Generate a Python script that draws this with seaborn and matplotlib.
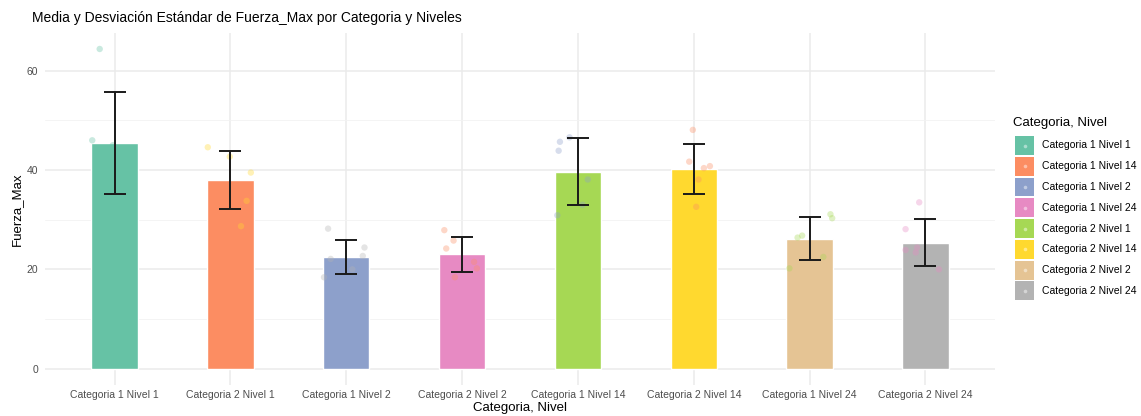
import numpy as np
import pandas as pd
import matplotlib
matplotlib.use("Agg")
import matplotlib.pyplot as plt
import seaborn as sns
from matplotlib.patches import Rectangle, Circle
from matplotlib.colors import to_rgb

# Groups in plotting order
grupos = ["Categoria 1 Nivel 1", "Categoria 2 Nivel 1", "Categoria 1 Nivel 2",
          "Categoria 2 Nivel 2", "Categoria 1 Nivel 14", "Categoria 2 Nivel 14",
          "Categoria 1 Nivel 24", "Categoria 2 Nivel 24"]

# Mean and standard deviation of Fuerza_Max per group
media = [45.5, 38.0, 22.5, 23.0, 39.7, 40.2, 26.2, 25.4]
desv = [10.25, 5.8, 3.5, 3.45, 6.7, 5.05, 4.3, 4.65]

# Individual observations per group
obs_c1n1 = [64.4, 46.0, 45.0, 43.0, 40.8, 33.7]
obs_c2n1 = [44.6, 42.7, 39.5, 33.8, 28.7]
obs_c1n2 = [28.2, 24.4, 22.7, 22.1, 20.0, 18.4]
obs_c2n2 = [27.9, 25.8, 24.2, 21.5, 20.2, 18.4]
obs_c1n14 = [46.6, 45.7, 43.9, 38.1, 33.0, 30.9]
obs_c2n14 = [48.1, 41.7, 40.8, 40.4, 38.1, 32.6]
obs_c1n24 = [31.1, 30.3, 26.8, 26.4, 22.5, 20.2]
obs_c2n24 = [33.5, 28.1, 24.4, 23.9, 23.4, 20.0]
observaciones = [obs_c1n1, obs_c2n1, obs_c1n2, obs_c2n2,
                 obs_c1n14, obs_c2n14, obs_c1n24, obs_c2n24]

# Legend entries (alphabetical factor levels)
leyenda = sorted(grupos)

set2 = sns.color_palette("Set2", 8)
color_barras = dict(zip(grupos, set2))
color_leyenda = dict(zip(leyenda, set2))
# colour of the jittered points for each group
color_puntos = dict(zip(grupos, [set2[0], set2[5], set2[7], set2[1],
                                 set2[2], set2[1], set2[4], set2[3]]))

df_resumen = pd.DataFrame({"grupo": grupos, "media": media, "desv": desv})
df_obs = pd.DataFrame({
    "grupo": [g for g, vals in zip(grupos, observaciones) for _ in vals],
    "valor": [v for vals in observaciones for v in vals],
})

sns.set_theme(style="whitegrid")
plt.rcParams["font.family"] = ["Liberation Sans", "DejaVu Sans"]

W, H = 1141, 416
fig = plt.figure(figsize=(W / 100, H / 100), dpi=100)
px_l, px_r, px_t, px_b = 45, 995, 33, 384.6
ax = fig.add_axes([px_l / W, 1 - px_b / H, (px_r - px_l) / W, (px_b - px_t) / H])

sns.barplot(data=df_resumen, x="grupo", y="media", hue="grupo", order=grupos,
            palette=color_barras, width=0.4, saturation=1, legend=False,
            errorbar=None, ax=ax, zorder=2)

np.random.seed(11)
sns.stripplot(data=df_obs, x="grupo", y="valor", hue="grupo", order=grupos,
              palette=color_puntos, jitter=0.2, size=4.6, alpha=0.35,
              linewidth=0, legend=False, ax=ax, zorder=3)

ax.errorbar(x=np.arange(len(grupos)), y=df_resumen["media"], yerr=df_resumen["desv"],
            fmt="none", ecolor="#1a1a1a", elinewidth=1.4, capsize=8.2,
            capthick=1.4, zorder=4)

ymax = max(max(df_obs["valor"]), max(np.array(media) + np.array(desv)))
ax.set_ylim(-0.05 * ymax, 1.05 * ymax)
ax.set_xlim(-0.6, len(grupos) - 0.4)
ax.set_yticks([0, 20, 40, 60])
ax.set_yticks([10, 30, 50], minor=True)

ax.set_facecolor("white")
for s in ax.spines.values():
    s.set_visible(False)
ax.grid(True, which="major", color="#EBEBEB", linewidth=1.1)
ax.grid(True, which="minor", axis="y", color="#F2F2F2", linewidth=0.6)
ax.set_axisbelow(True)
ax.tick_params(axis="both", which="both", length=0, labelsize=7.5,
               labelcolor="#4D4D4D")
ax.tick_params(axis="x", pad=4)
ax.tick_params(axis="y", pad=5)

ax.set_xlabel("Categoria, Nivel", fontsize=9.5, color="black")
ax.set_ylabel("Fuerza_Max", fontsize=9.5, color="black")
ax.xaxis.set_label_coords(0.5, (px_b - 408) / (px_b - px_t))
ax.xaxis.label.set_va("center")
ax.yaxis.set_label_coords((17 - px_l) / (px_r - px_l), 0.5)
ax.yaxis.label.set_va("center")

fig.text(32 / W, 1 - 18 / H, "Media y Desviación Estándar de Fuerza_Max por Categoria y Niveles",
         ha="left", va="center", fontsize=10, color="black")


def aclarar(c, f=0.45):
    r, g, b = to_rgb(c)
    return (r + (1 - r) * f, g + (1 - g) * f, b + (1 - b) * f)


# Legend: coloured keys with a small point glyph, laid out in pixel units
def fx(px):
    return px / W


def fy(py):
    return 1 - py / H


fig.text(fx(1013), fy(123), "Categoria, Nivel", ha="left", va="center",
         fontsize=9.5, color="black")
key_x, key_w, key_h, key_step, key_top = 1015, 19.3, 19, 20.75, 136
for i, g in enumerate(leyenda):
    top = key_top + i * key_step
    fig.patches.append(Rectangle((fx(key_x), fy(top + key_h)), key_w / W, key_h / H,
                                 transform=fig.transFigure, facecolor=color_leyenda[g],
                                 edgecolor="none"))
    fig.add_artist(matplotlib.lines.Line2D([fx(key_x + key_w / 2)], [fy(top + key_h / 2)],
                                           transform=fig.transFigure, marker="o", ls="",
                                           markersize=2.6, markeredgewidth=0,
                                           markerfacecolor=aclarar(color_leyenda[g])))
    fig.text(fx(1042), fy(top + key_h / 2), g, ha="left", va="center",
             fontsize=7.5, color="black")

fig.savefig("out.png", dpi=100, facecolor="white")
